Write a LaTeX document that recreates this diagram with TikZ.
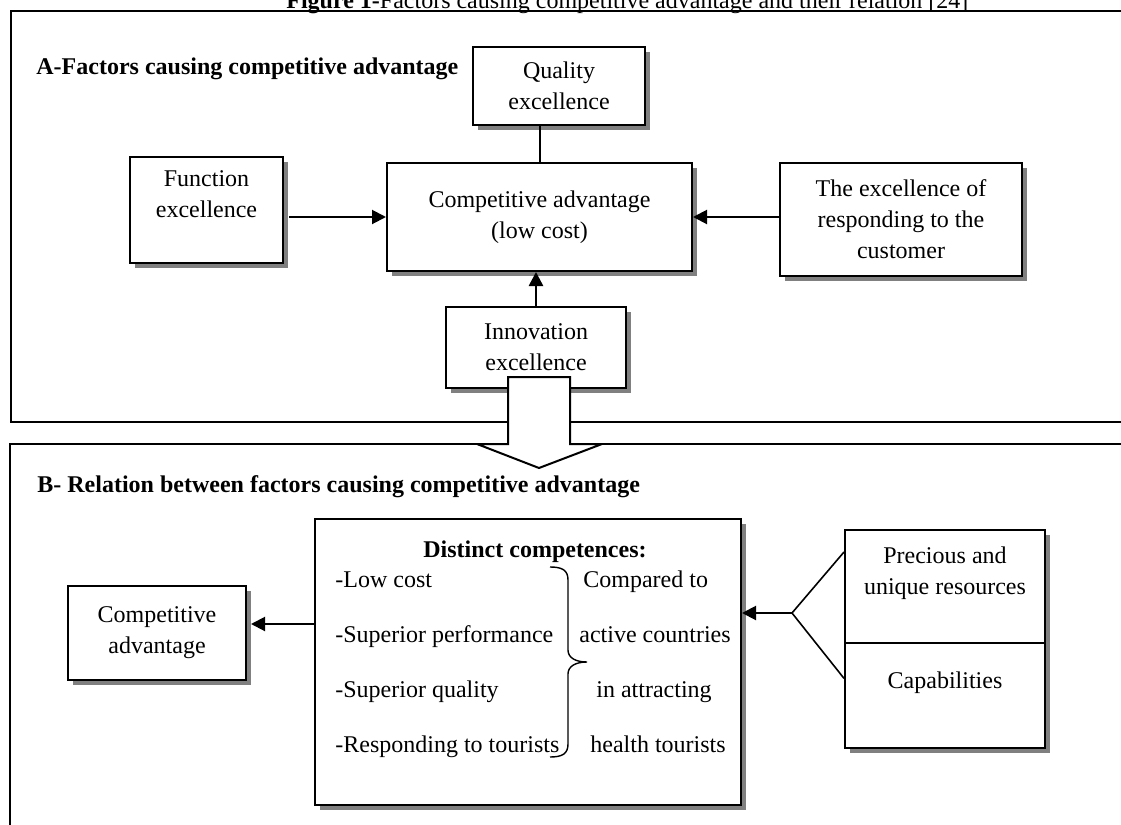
\documentclass[tikz,border=0pt]{standalone}
\usepackage{fontspec}
\setmainfont{Liberation Serif}
\usepackage{tikz}
\usetikzlibrary{calc,positioning,arrows.meta,shadows}

\tikzset{
  box/.style={draw, line width=1pt, fill=white, align=center, inner sep=0pt,
    drop shadow={shadow xshift=2.5pt, shadow yshift=-2.5pt, fill=black!50, opacity=1}},
  txt/.style={inner sep=0pt},
  head/.style={txt, font=\fontsize{12}{15.5}\selectfont\bfseries},
  arr/.style={line width=1pt, -{Triangle[length=7pt,width=7pt]}},
}

\begin{document}
\begin{tikzpicture}[x=0.5pt, y=-0.5pt, every node/.style={font=\fontsize{12}{15.5}\selectfont}]
\useasboundingbox (0,0) rectangle (1121,825);
\node[txt, anchor=base west] (title) at (286,8) {\textbf{Figure 1-}Factors causing competitive advantage and their relation [24]};
% frames
\draw[line width=1pt] (1125,11) -- (11,11) -- (11,422) -- (1125,422);
\draw[line width=0.75pt] (1125,444) -- (10,444) -- (10,830);
\node[head, anchor=base west] (ahead) at (36,74) {A-Factors causing competitive advantage};
\node[head, anchor=base west] (bhead) at (37,492) {B- Relation between factors causing competitive advantage};

% part A
\node[box, minimum width=86pt, minimum height=39pt] (qual) at (559,86) {Quality\\excellence};
\node[box, minimum width=76.5pt, minimum height=53pt] (func) at (206.5,210) {Function\\excellence\\\mbox{}};
\node[box, minimum width=152.5pt, minimum height=54pt] (comp) at (539.5,217) {Competitive advantage\\(low cost)};
\node[box, minimum width=121pt, minimum height=56.5pt] (resp) at (901,219.5) {The excellence of\\responding to the\\customer};
\node[box, minimum width=90pt, minimum height=40.5pt] (innov) at (536,347.5) {Innovation\\excellence};
\draw[arr, shorten <=2.5pt] (func.east |- comp.west) -- (comp.west);
\draw[arr] (resp.west |- comp.east) -- (comp.east);
\draw[line width=1pt] (qual.south -| comp.north) -- (comp.north);
\draw[arr, line width=1.3pt] (innov.north) -- (innov.north |- comp.south);
\draw[line width=1pt, fill=white] (508,377) -- (570,377) -- (570,444) -- (602,444) -- (539,468) -- (477,444) -- (508,444) -- cycle;

% part B
\node[box, minimum width=89pt, minimum height=47pt] (cadv) at (157,633) {Competitive\\advantage};
\node[box, minimum width=213pt, minimum height=143pt] (dist) at (528,662) {};
\node[box, minimum width=100pt, minimum height=56.5pt] (res) at (945,586.5) {Precious and\\unique resources\\\mbox{}};
\node[box, minimum width=100pt, minimum height=52.5pt] (cap) at (945,695.5) {Capabilities\\\mbox{}};
\node[head, anchor=base] (dhead) at (535,557) {Distinct competences:};
\node[txt, anchor=base west] (low) at (335,587) {-Low cost};
\node[txt, anchor=base west] (perf) at (335,642) {-Superior performance};
\node[txt, anchor=base west] (qlty) at (335,697) {-Superior quality};
\node[txt, anchor=base west] (tour) at (335,752) {-Responding to tourists};
\node[txt, anchor=base west] (cmp) at (583,587) {Compared to};
\node[txt, anchor=base west] (act) at (579,642) {active countries};
\node[txt, anchor=base west] (att) at (596,697) {in attracting};
\node[txt, anchor=base west] (hlt) at (590,752) {health tourists};
\draw[line width=0.7pt] (550,567) .. controls (562,567) and (568,570) .. (568,580) -- (568,650)
  .. controls (568,658) and (576,662) .. (587,662) .. controls (576,662) and (568,666) .. (568,674)
  -- (568,744) .. controls (568,754) and (562,757) .. (550,757);
\draw[arr, shorten >=2pt] ([yshift=4.5pt]cadv.east -| dist.west) -- ([yshift=4.5pt]cadv.east);
\coordinate (fk) at (792,613);
\draw[line width=0.8pt] ($(res.north west)!0.2!(res.south west)$) -- (fk) -- ($(cap.north west)!0.34!(cap.south west)$);
\draw[arr] (fk) -- (fk -| dist.east);
\end{tikzpicture}
\end{document}
